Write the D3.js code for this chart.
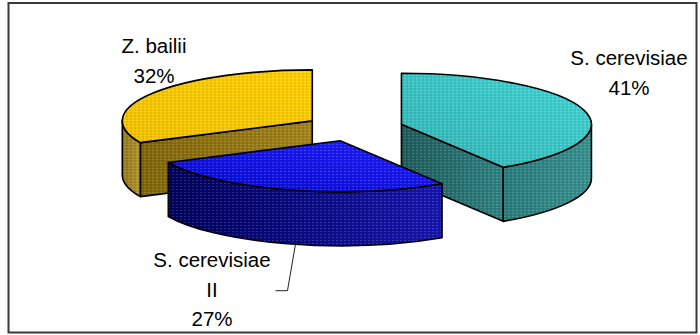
<!DOCTYPE html>
<html>
<head>
<meta charset="utf-8">
<script src="https://cdn.jsdelivr.net/npm/d3@7/dist/d3.min.js"></script>
<style>
  html, body { margin: 0; padding: 0; background: #fff; }
  svg { display: block; }
  .label { font-family: Arial, "Liberation Sans", sans-serif; font-size: 20.5px; fill: #000; text-anchor: middle; }
</style>
</head>
<body>
<svg id="chart" width="700" height="335"></svg>
<script>
// ===== data =====
// slices in clockwise order starting at 12 o'clock
const categories = ['S. cerevisiae', 'S. cerevisiae II', 'Z. bailii'];
const labelLines = [['S. cerevisiae'], ['S. cerevisiae', 'II'], ['Z. bailii']];
const values = [41, 27, 32];

// ===== layout / style =====
const pieCx = 354, pieCy = 128;   // centre of the un-exploded pie
const rx = 190, ry = 51;          // projected ellipse radii
const depth = 54;                 // thickness of the pie
const explode = 0.26;             // explosion as a fraction of radius
const lineH = 29.7;

// label block anchor: [centre x, first baseline]
const labelAt = [[629, 65], [212, 267], [154, 53]];

// gradient stops for each face type of each slice
const palette = [
    { top: ['#33b4b4', '#42d6d6'], radial: ['#1f5b5b', '#2f8282'], side: ['#2a7c7c', '#389090'] },
    { top: ['#0808d0', '#2020ff'], radial: ['#00005a', '#10109a'], side: ['#00005a', '#1616ae'] },
    { top: ['#f2c200', '#ffd000'], radial: ['#80650a', '#a2841a'], side: ['#94781a', '#b09430'] }
];

const svg = d3.select('#chart');
const defs = svg.append('defs');

// fine dotted texture laid over every face (the reference uses a pattern fill)
const pat = defs.append('pattern')
    .attr('id', 'tex').attr('patternUnits', 'userSpaceOnUse')
    .attr('width', 4).attr('height', 3);
pat.append('rect').attr('x', 0).attr('y', 0).attr('width', 2).attr('height', 1)
    .attr('fill', '#fff').attr('opacity', 0.16);
pat.append('rect').attr('x', 2).attr('y', 1.5).attr('width', 2).attr('height', 1)
    .attr('fill', '#000').attr('opacity', 0.12);

function makeGradient(id, stops, x1, y1, x2, y2) {
    const g = defs.append('linearGradient').attr('id', id)
        .attr('x1', x1).attr('y1', y1).attr('x2', x2).attr('y2', y2);
    g.append('stop').attr('offset', '0%').attr('stop-color', stops[0]);
    g.append('stop').attr('offset', '100%').attr('stop-color', stops[1]);
    return 'url(#' + id + ')';
}

// frame
svg.append('rect')
    .attr('x', 8.5).attr('y', 3).attr('width', 688).attr('height', 329.5)
    .attr('fill', 'none').attr('stroke', '#3a3a3a').attr('stroke-width', 2);

// angles from d3.pie, keep the data order
const pie = d3.pie().sort(null).value(d => d)(values);

// point on the ellipse at angle a (clockwise from top), dz pushes down to the bottom face
function pt(c, a, dz) {
    return [c[0] + rx * Math.sin(a), c[1] - ry * Math.cos(a) + (dz || 0)];
}
function arcTo(p, large, sweep) {
    return `A${rx},${ry} 0 ${large} ${sweep} ${p[0]},${p[1]}`;
}

const slices = pie.map((p, i) => {
    const mid = (p.startAngle + p.endAngle) / 2;
    const c = [pieCx + rx * explode * Math.sin(mid), pieCy - ry * explode * Math.cos(mid)];
    return { i, a0: p.startAngle, a1: p.endAngle, mid, c };
});

// back slices first
const order = slices.slice().sort((a, b) => a.c[1] - b.c[1]);
const layer = svg.append('g');

function drawFace(d, fill) {
    layer.append('path').attr('d', d).attr('fill', fill).attr('stroke', 'none');
    layer.append('path').attr('d', d).attr('fill', 'url(#tex)')
        .attr('stroke', '#000').attr('stroke-width', 1.6).attr('stroke-linejoin', 'round');
}

order.forEach(s => {
    const col = palette[s.i];
    const c = s.c, cb = [c[0], c[1] + depth];

    // radial faces that face the viewer
    const radialFill = makeGradient('rad' + s.i, col.radial, '0%', '0%', '100%', '0%');
    if (Math.sin(s.a0) < -1e-6) {
        const p = pt(c, s.a0);
        drawFace(`M${c}L${p}L${pt(c, s.a0, depth)}L${cb}Z`, radialFill);
    }
    if (Math.sin(s.a1) > 1e-6) {
        const p = pt(c, s.a1);
        drawFace(`M${c}L${p}L${pt(c, s.a1, depth)}L${cb}Z`, radialFill);
    }

    // outer curved side, only the front half of the ellipse is seen
    const s0 = Math.max(s.a0, Math.PI / 2), s1 = Math.min(s.a1, Math.PI * 1.5);
    if (s1 > s0) {
        const large = (s1 - s0) > Math.PI ? 1 : 0;
        const d = `M${pt(c, s0)}` + arcTo(pt(c, s1), large, 1) +
            `L${pt(c, s1, depth)}` + arcTo(pt(c, s0, depth), large, 0) + 'Z';
        drawFace(d, makeGradient('side' + s.i, col.side, '0%', '0%', '100%', '0%'));
    }

    // top face
    const large = (s.a1 - s.a0) > Math.PI ? 1 : 0;
    const top = `M${c}L${pt(c, s.a0)}` + arcTo(pt(c, s.a1), large, 1) + 'Z';
    drawFace(top, makeGradient('top' + s.i, col.top, '0%', '100%', '100%', '0%'));
});

// labels
const pct = d3.format('.0%');
const total = d3.sum(values);
slices.forEach(s => {
    const lines = labelLines[s.i].concat([pct(values[s.i] / total)]);
    const t = svg.append('text').attr('class', 'label');
    lines.forEach((ln, k) => {
        t.append('tspan').attr('x', labelAt[s.i][0]).attr('y', labelAt[s.i][1] + k * lineH).text(ln);
    });
});

// leader line for the front slice
const front = slices[1];
const start = pt(front.c, front.mid - 0.045, depth);
const elbowY = labelAt[1][1] + lineH - 6;
svg.append('polyline')
    .attr('points', [start, [start[0] - 8, elbowY], [start[0] - 20, elbowY]].join(' '))
    .attr('fill', 'none').attr('stroke', '#222').attr('stroke-width', 1);
</script>
</body>
</html>
